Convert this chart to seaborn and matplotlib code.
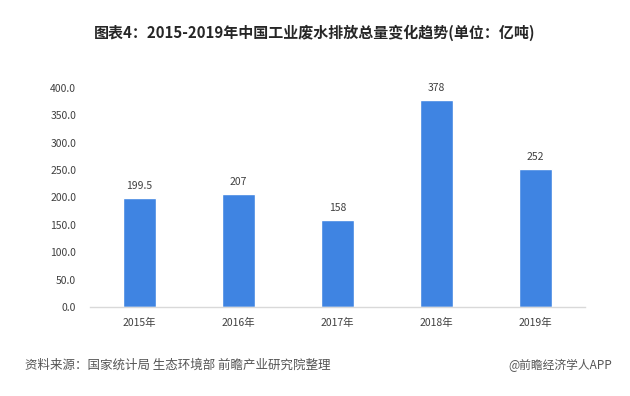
import matplotlib
matplotlib.use("Agg")
import matplotlib.pyplot as plt
import seaborn as sns
import pandas as pd

years = ["2015年", "2016年", "2017年", "2018年", "2019年"]
values = [199.5, 207, 158, 378, 252]
value_labels = ["199.5", "207", "158", "378", "252"]
yticks = [0, 50, 100, 150, 200, 250, 300, 350, 400]

title = "图表4：2015-2019年中国工业废水排放总量变化趋势(单位：亿吨)"
source = "资料来源：国家统计局 生态环境部 前瞻产业研究院整理"
credit = "@前瞻经济学人APP"

sns.set_theme(style="white")
plt.rcParams["font.family"] = ["Noto Sans CJK SC", "DejaVu Sans"]

df = pd.DataFrame({"year": years, "value": values})

fig = plt.figure(figsize=(6.3, 3.96), dpi=100)
ax = fig.add_axes([0.143, 0.225, 0.786, 0.553])

sns.barplot(data=df, x="year", y="value", color="#3f84e2", width=0.33,
            saturation=1, ax=ax)

ax.set_ylim(0, 400)
ax.set_yticks(yticks)
ax.set_yticklabels([f"{v:.1f}" for v in yticks], fontsize=7.5, color="#404040")
ax.set_xticks(range(len(years)))
ax.set_xticklabels(years, fontsize=7.5, color="#404040")
ax.set_xlabel("")
ax.set_ylabel("")
ax.tick_params(axis="both", length=0)
ax.tick_params(axis="y", pad=10)
ax.tick_params(axis="x", pad=8)
for side in ["top", "right", "left"]:
    ax.spines[side].set_visible(False)
ax.spines["bottom"].set_color("#d9d9d9")
ax.spines["bottom"].set_linewidth(1.0)

for p, lab in zip(ax.patches, value_labels):
    ax.annotate(lab, (p.get_x() + p.get_width() / 2, p.get_height()),
                xytext=(0, 5), textcoords="offset points",
                ha="center", va="bottom", fontsize=7.5, color="#404040")

fig.text(0.5, 1 - 33 / 396, title, ha="center", va="center",
         fontsize=10.8, fontweight="bold", color="#262626")
fig.text(25 / 630, 1 - 365 / 396, source, ha="left", va="center",
         fontsize=9, color="#555555")
fig.text(612 / 630, 1 - 365 / 396, credit, ha="right", va="center",
         fontsize=8.5, color="#555555")

fig.savefig("out.png", dpi=100)
